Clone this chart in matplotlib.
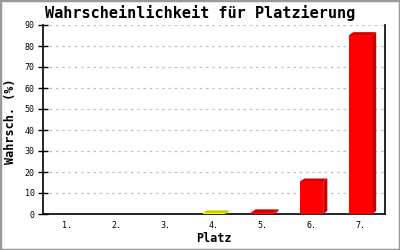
import matplotlib
matplotlib.use("Agg")
import matplotlib.pyplot as plt
from matplotlib.patches import Polygon, Rectangle

places = ["1.", "2.", "3.", "4.", "5.", "6.", "7."]
values = [0.0, 0.0, 0.0, 0.3, 0.8, 15.5, 85.2]
front_colors = ["#FF0000", "#FF0000", "#FF0000", "#FFFF00", "#FF0000", "#FF0000", "#FF0000"]
shade_colors = ["#CC0000", "#CC0000", "#CC0000", "#CCCC00", "#CC0000", "#CC0000", "#CC0000"]
yticks = [0, 10, 20, 30, 40, 50, 60, 70, 80, 90]

mono = "DejaVu Sans Mono"
fig = plt.figure(figsize=(4, 2.5), dpi=100)
fig.patch.set_facecolor("white")
fig.patches.append(Rectangle((0, 0), 1, 1, transform=fig.transFigure, fill=False,
                             edgecolor="#999999", linewidth=2.5))
ax = fig.add_axes([0.1075, 0.144, 0.855, 0.756])

xs = list(range(1, len(places) + 1))
width = 0.47
dx = 0.085
dy = 1.4
for x, v, fc, sc in zip(xs, values, front_colors, shade_colors):
    if v <= 0:
        continue
    x0 = x - width / 2
    x1 = x + width / 2
    ax.add_patch(Polygon([(x1, 0), (x1, v), (x1 + dx, v + dy), (x1 + dx, dy)],
                         closed=True, facecolor=sc, edgecolor="none", zorder=3))
    ax.add_patch(Polygon([(x0, v), (x0 + dx, v + dy), (x1 + dx, v + dy), (x1, v)],
                         closed=True, facecolor=sc, edgecolor="none", zorder=3))
    ax.bar(x, v, width=width, color=fc, edgecolor="none", zorder=4)

ax.set_xlim(0.5, len(places) + 0.5)
ax.set_ylim(0, 90)
ax.set_xticks(xs)
ax.set_xticklabels(places, fontfamily=mono, fontsize=6)
ax.set_yticks(yticks)
ax.set_yticklabels([str(t) for t in yticks], fontfamily=mono, fontsize=6)
ax.tick_params(axis="x", length=0, pad=5)
ax.tick_params(axis="y", direction="inout", length=7, width=1, pad=2.5)
ax.grid(axis="y", color="#c0c0c0", linestyle=(0, (2, 3)), linewidth=0.9)
ax.set_axisbelow(True)
ax.spines["top"].set_visible(False)
for s in ["left", "right", "bottom"]:
    ax.spines[s].set_linewidth(1.2)
    ax.spines[s].set_color("black")

fig.text(0.5, 0.948, "Wahrscheinlichkeit für Platzierung", ha="center", va="center",
         fontfamily=mono, fontweight="bold", fontsize=11)
fig.text(0.536, 0.044, "Platz", ha="center", va="center",
         fontfamily=mono, fontweight="bold", fontsize=8.5)
fig.text(0.027, 0.516, "Wahrsch. (%)", ha="center", va="center", rotation=90,
         fontfamily=mono, fontweight="bold", fontsize=8.5)

fig.savefig("out.png", dpi=100)
